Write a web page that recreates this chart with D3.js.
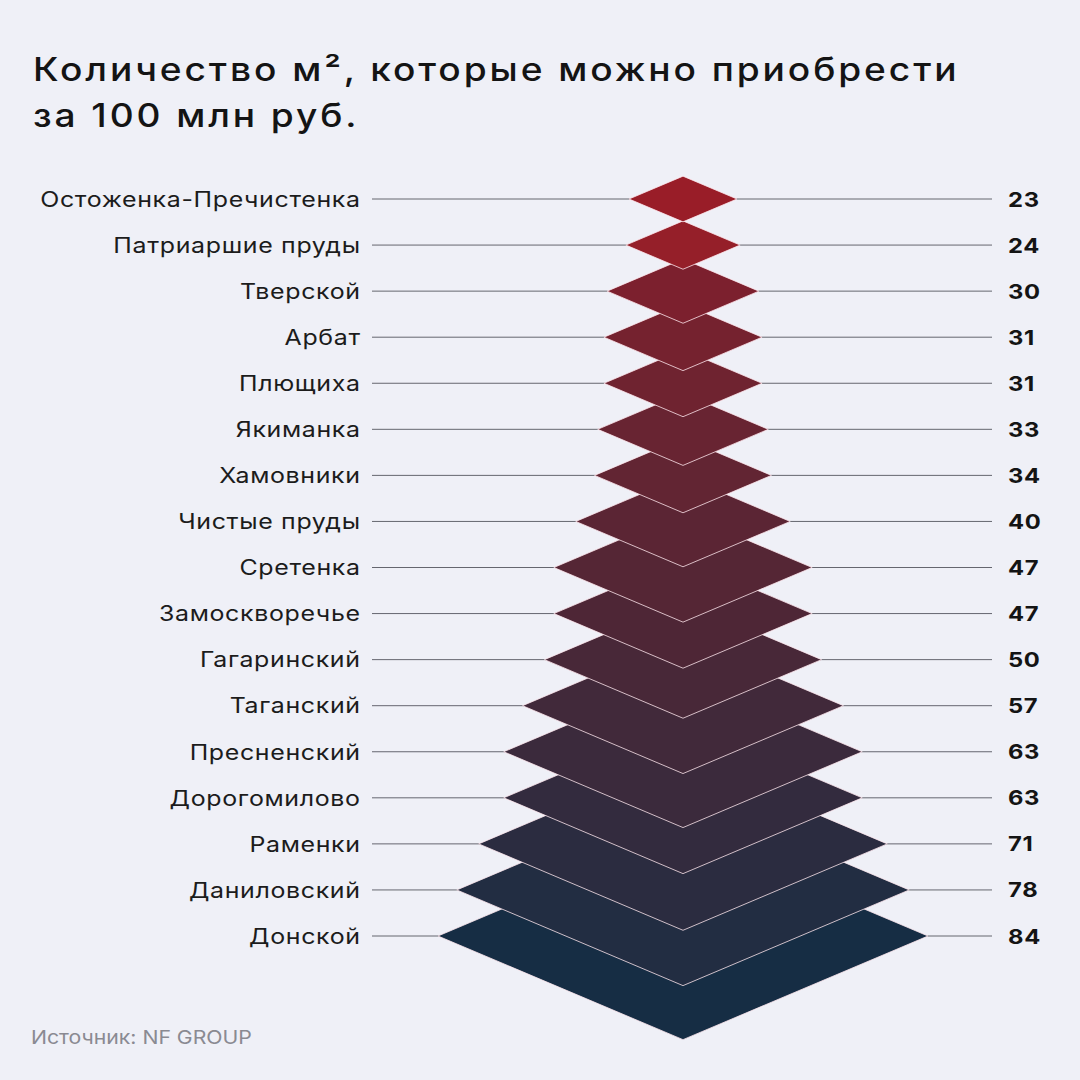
<!DOCTYPE html>
<html><head><meta charset="utf-8">
<script src="https://cdn.jsdelivr.net/npm/d3@7/dist/d3.min.js"></script>
<style>
html,body{margin:0;padding:0;background:#eff0f7;}
svg{display:block;}
</style></head>
<body>
<svg id="chart" width="1080" height="1080"></svg>
<script>
const districts = ["Остоженка-Пречистенка","Патриаршие пруды","Тверской","Арбат","Плющиха","Якиманка","Хамовники","Чистые пруды","Сретенка","Замоскворечье","Гагаринский","Таганский","Пресненский","Дорогомилово","Раменки","Даниловский","Донской"];
const values = [23,24,30,31,31,33,34,40,47,47,50,57,63,63,71,78,84];
const titleLines = ["Количество м², которые можно приобрести","за 100 млн руб."];
const sourceText = "Источник: NF GROUP";

const W = 1080, H = 1080;
const svg = d3.select("#chart");
svg.append("rect").attr("width",W).attr("height",H).attr("fill","#eff0f7");

const font = "Inter, 'Noto Sans', sans-serif";
const MAXS = 1.16;

// widen a group of texts (wide geometric face imitation): horizontal scale + letter-spacing,
// computed from one reference text and a target width
function fitParams(node, target){
  node.style.letterSpacing = "0px";
  const w0 = node.getComputedTextLength();
  const n = node.getNumberOfChars();
  const s = Math.min(MAXS, target / w0);
  const ls = (target / s - w0) / Math.max(1, n - 1);
  return {s, ls};
}
function applyFit(sel, p, xFn, yFn, anchorEnd){
  sel.style("letter-spacing", p.ls + "px")
     .attr("x", anchorEnd ? p.ls : 0).attr("y", 0)
     .attr("transform", (d,i)=>`translate(${xFn(d,i)},${yFn(d,i)}) scale(${p.s},1)`);
}

// title
const title = svg.append("g").selectAll("text").data(titleLines).join("text")
  .attr("font-family",font).attr("font-size",32).attr("font-weight",500)
  .attr("fill","#141414").text(d=>d);
applyFit(title, fitParams(title.nodes()[0], 924), ()=>33, (d,i)=>81+i*46, false);

const cx = 683;
const y = d3.scalePoint().domain(districts).range([199,936]);
const hw = d3.scaleLinear().domain([23,84]).range([54,245]);
const ratio = 0.423;
const color = d3.scaleLinear()
  .domain([0,1,2,9,16])
  .range(["#991d28","#951f29","#7c202e","#4e2636","#162d44"])
  .interpolate(d3.interpolateLab);

const rows = districts.map((d,i)=>({name:d,value:values[i],i}));

// leader lines
svg.append("g").selectAll("line").data(rows).join("line")
  .attr("x1",372).attr("x2",992)
  .attr("y1",d=>y(d.name)).attr("y2",d=>y(d.name))
  .attr("stroke","#65666f").attr("stroke-width",1);

// diamonds: draw bottom first so upper ones overlap
svg.append("g").selectAll("path").data(rows.slice().reverse()).join("path")
  .attr("d",d=>{
    const yy=y(d.name), w=hw(d.value), h=w*ratio;
    return `M${cx-w},${yy}L${cx},${yy-h}L${cx+w},${yy}L${cx},${yy+h}Z`;
  })
  .attr("fill",d=>color(d.i))
  .attr("stroke","rgba(255,232,238,0.78)").attr("stroke-width",1);

// labels
const labels = svg.append("g").selectAll("text").data(rows).join("text")
  .attr("text-anchor","end")
  .attr("font-family",font).attr("font-size",21.5).attr("font-weight",400)
  .attr("fill","#1c1c1c").text(d=>d.name);
applyFit(labels, fitParams(labels.nodes()[0], 320), ()=>360, d=>y(d.name)+7.8, true);

// values
const vals = svg.append("g").selectAll("text").data(rows).join("text")
  .attr("font-family",font).attr("font-size",20.5).attr("font-weight",700)
  .attr("fill","#141414").text(d=>d.value);
applyFit(vals, fitParams(vals.nodes()[0], 31), ()=>1008, d=>y(d.name)+7.5, false);

// source
const src = svg.append("g").selectAll("text").data([sourceText]).join("text")
  .attr("font-family",font).attr("font-size",19).attr("font-weight",400).attr("fill","#8a8a92")
  .text(d=>d);
applyFit(src, fitParams(src.node(), 221), ()=>31, ()=>1044, false);
</script>
</body></html>
